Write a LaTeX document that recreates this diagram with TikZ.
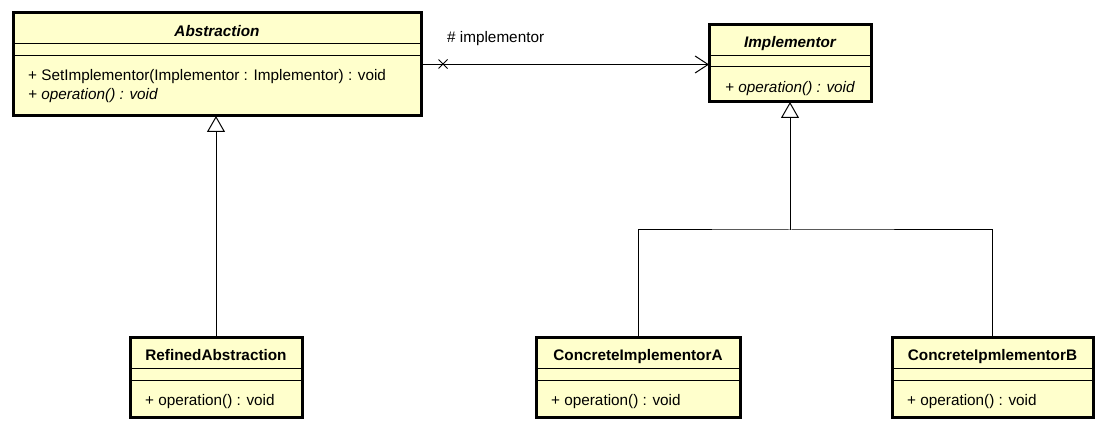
\documentclass[tikz,border=0pt]{standalone}
\usepackage{fontspec}
\setmainfont{Liberation Sans}
\usetikzlibrary{arrows.meta,shapes.misc}
\definecolor{classfill}{RGB}{255,255,204}
\newcommand{\umlfont}{\fontsize{15.3}{18}\selectfont}
\tikzset{
  classbox/.style={draw, line width=3pt, fill=classfill, inner sep=0pt, outer sep=0pt, anchor=north west},
  sepline/.style={line width=1pt},
  classname/.style={font=\umlfont\bfseries, inner sep=0pt, anchor=base},
  absname/.style={font=\umlfont\bfseries\itshape, inner sep=0pt, anchor=base},
  member/.style={font=\umlfont, inner sep=0pt, anchor=base west},
  absmember/.style={member, font=\umlfont\itshape},
  genarrow/.style={-{Triangle[open,length=16pt,width=18pt,line width=1pt]}, line width=1pt},
  navarrow/.style={-{Straight Barb[length=13pt,width=17pt,line width=1pt]}, line width=1pt},
}
\begin{document}
\begin{tikzpicture}[x=1pt,y=-1pt]
  \useasboundingbox (0,0) rectangle (1108,430);
  % Abstraction
  \node[classbox, minimum width=408, minimum height=103] (abs) at (13,13) {};
  \draw[sepline] (abs.west |- 0,44) -- (abs.east |- 0,44);
  \draw[sepline] (abs.west |- 0,56) -- (abs.east |- 0,56);
  \node[absname] (abs-name) at (abs.north |- 0,36.5) {Abstraction};
  \node[member] (abs-set) at (28,81) {+ SetImplementor(Implementor : Implementor) : void};
  \node[absmember] (abs-op) at (28,99.5) {+ operation() : void};
  % Implementor
  \node[classbox, minimum width=162, minimum height=77] (impl) at (709,25) {};
  \draw[sepline] (impl.west |- 0,56) -- (impl.east |- 0,56);
  \draw[sepline] (impl.west |- 0,67) -- (impl.east |- 0,67);
  \node[absname] (impl-name) at (impl.north |- 0,48) {Implementor};
  \node[absmember] (impl-op) at (725,92.5) {+ operation() : void};
  % concrete classes, all on one row
  \foreach \cls/\px/\bw/\title in {refined/130/172/RefinedAbstraction,
      concA/536/204/ConcreteImplementorA, concB/892/201/ConcreteIpmlementorB}{
    \node[classbox, minimum width=\bw, minimum height=80] (\cls) at (\px,337) {};
    \draw[sepline] (\cls.west |- 0,368) -- (\cls.east |- 0,368);
    \draw[sepline] (\cls.west |- 0,380) -- (\cls.east |- 0,380);
    \node[classname] (\cls-name) at (\cls.north |- 0,360) {\title};
    \node[member, xshift=15pt] (\cls-op) at (\cls.west |- 0,405.5) {+ operation() : void};
  }
  % association
  \draw[navarrow] (abs.east) -- (abs.east -| impl.west);
  \node[cross out, draw, line width=1pt, inner sep=0pt, minimum size=8pt] (nav-x) at (443,64) {};
  \node[member] (nav-role) at (447,42.5) {\# implementor};
  % generalizations
  \draw[genarrow] (refined.north) -- (refined.north |- abs.south);
  \coordinate (fork) at (790,230);
  \draw[sepline] (concA.north) |- (fork) -| (concB.north);
  \draw[genarrow] (fork) -- (impl.south);
\end{tikzpicture}
\end{document}
